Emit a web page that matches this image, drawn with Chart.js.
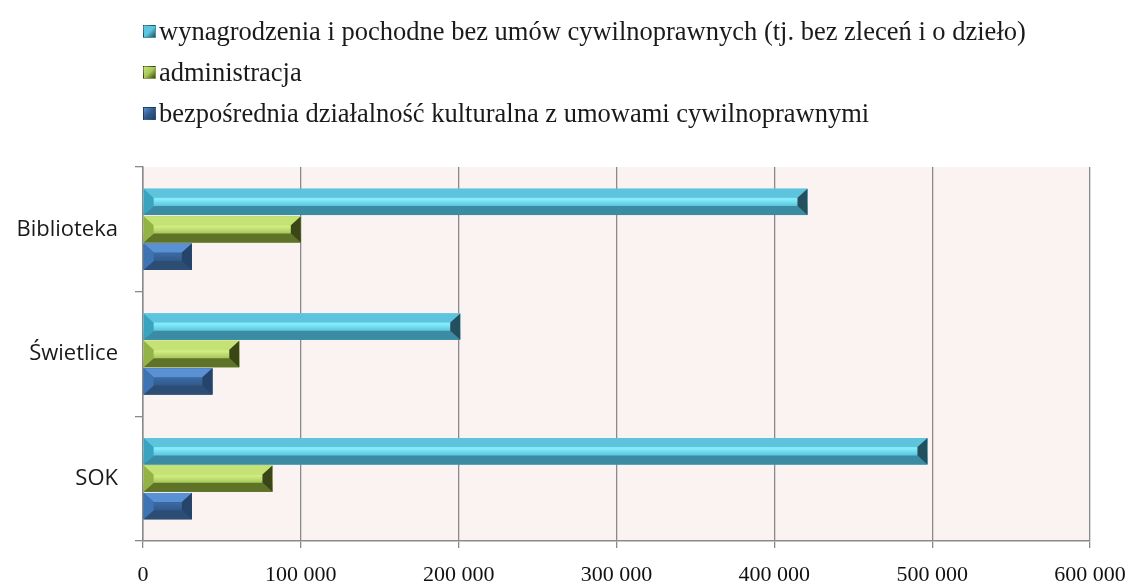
<!DOCTYPE html>
<html>
<head>
<meta charset="utf-8">
<script src="https://cdn.jsdelivr.net/npm/chart.js@4"></script>
<style>
  html, body { margin: 0; padding: 0; background: #fff; }
  #wrap { position: relative; width: 1136px; height: 586px; }
  #legend { position: absolute; left: 143px; top: 0; font-family: 'Liberation Serif', 'Times New Roman', serif; font-size: 26.5px; color: #1a1a1a; }
  .item { position: absolute; left: 0; white-space: nowrap; display: flex; align-items: center; height: 30px; }
  .box { width: 11px; height: 11px; margin-right: 3px; border: 1px solid rgba(0,0,0,0.25); }
</style>
</head>
<body>
<div id="wrap">
  <div id="legend"></div>
  <canvas id="costChart" width="1136" height="586"></canvas>
</div>
<script>
// data
const categories = ['Biblioteka', 'Świetlice', 'SOK'];
const seriesNames = [
    'wynagrodzenia i pochodne bez umów cywilnoprawnych (tj. bez zleceń i o dzieło)',
    'administracja',
    'bezpośrednia działalność kulturalna z umowami cywilnoprawnymi'
];
const wynagrodzenia = [421000, 201000, 497000];
const administracja = [100000, 61000, 82000];
const dzialalnosc = [31000, 44000, 31000];
const xMax = 600000;
const xStep = 100000;

// bevel shades: face, highlight, top, bottom, left, right
const shades = [
    { face: '#5cc6df', hi: '#86ecfb', top: '#5ec4dd', bottom: '#3b8ba2', left: '#3aa3c0', right: '#244f5e' },
    { face: '#a8c85a', hi: '#d0ec85', top: '#c5e274', bottom: '#5f7328', left: '#93b347', right: '#3a4616' },
    { face: '#305a8a', hi: '#3a68a0', top: '#5a90d4', bottom: '#2d4d75', left: '#3f74b4', right: '#26436a' }
];

// html legend, one item per line
const legendEl = document.getElementById('legend');
seriesNames.forEach((name, i) => {
    const s = shades[i];
    legendEl.innerHTML += `
        <div class="item" style="top:${16 + i * 41}px">
            <span class="box" style="background: linear-gradient(135deg, ${s.top} 0%, ${s.face} 50%, ${s.right} 100%);"></span>${name}
        </div>`;
});

const plotBackground = {
    id: 'plotBackground',
    beforeDraw(chart) {
        const a = chart.chartArea;
        const ctx = chart.ctx;
        ctx.save();
        ctx.fillStyle = '#fbf3f2';
        ctx.fillRect(a.left, a.top, a.right - a.left, a.bottom - a.top);
        ctx.restore();
    }
};

function poly(ctx, pts, color) {
    ctx.beginPath();
    ctx.moveTo(pts[0][0], pts[0][1]);
    for (let k = 1; k < pts.length; k++) ctx.lineTo(pts[k][0], pts[k][1]);
    ctx.closePath();
    ctx.fillStyle = color;
    ctx.fill();
}

// redraw each bar with a bevel look, using the bar element geometry
const bevelBars = {
    id: 'bevelBars',
    afterDatasetsDraw(chart) {
        const ctx = chart.ctx;
        chart.data.datasets.forEach((ds, di) => {
            const s = shades[di];
            chart.getDatasetMeta(di).data.forEach(el => {
                const p = el.getProps(['x', 'y', 'base', 'height'], true);
                const l = Math.min(p.x, p.base), r = Math.max(p.x, p.base);
                const t = p.y - p.height / 2, b = p.y + p.height / 2;
                const bh = Math.min(10, (r - l) / 2);   // end bevel
                const bt = Math.min(9, p.height * 0.38); // top/bottom bevel
                ctx.save();
                const g = ctx.createLinearGradient(0, t, 0, b);
                g.addColorStop(0, s.face);
                g.addColorStop(0.4, s.hi);
                g.addColorStop(0.65, s.face);
                g.addColorStop(1, s.bottom);
                ctx.fillStyle = g;
                ctx.fillRect(l, t, r - l, b - t);
                poly(ctx, [[l, t], [r, t], [r - bh, t + bt], [l + bh, t + bt]], s.top);
                poly(ctx, [[l, b], [r, b], [r - bh, b - bt], [l + bh, b - bt]], s.bottom);
                poly(ctx, [[l, t], [l + bh, t + bt], [l + bh, b - bt], [l, b]], s.left);
                poly(ctx, [[r, t], [r - bh, t + bt], [r - bh, b - bt], [r, b]], s.right);
                ctx.restore();
            });
        });
    }
};

const ctx = document.getElementById('costChart').getContext('2d');
new Chart(ctx, {
    type: 'bar',
    data: {
        labels: categories,
        datasets: [
            { label: seriesNames[0], data: wynagrodzenia, backgroundColor: shades[0].face },
            { label: seriesNames[1], data: administracja, backgroundColor: shades[1].face },
            { label: seriesNames[2], data: dzialalnosc, backgroundColor: shades[2].face }
        ]
    },
    options: {
        indexAxis: 'y',
        responsive: false,
        animation: false,
        categoryPercentage: 0.66,
        barPercentage: 0.96,
        layout: { padding: { top: 167, right: 46, left: 0, bottom: 0 } },
        plugins: {
            legend: { display: false },
            tooltip: { enabled: false }
        },
        scales: {
            x: {
                min: 0,
                max: xMax,
                afterFit: scale => {
                    scale.height = 45;
                    scale.paddingRight = 0;
                    scale.paddingLeft = 0;
                },
                ticks: {
                    stepSize: xStep,
                    padding: 14,
                    color: '#111',
                    font: { family: "'Liberation Serif', 'Times New Roman', serif", size: 22 },
                    callback: v => String(v).replace(/\B(?=(\d{3})+(?!\d))/g, ' ')
                },
                grid: { color: '#8a8a8a', lineWidth: 1.3, tickLength: 7 },
                border: { color: '#8a8a8a', width: 1.5 }
            },
            y: {
                afterFit: scale => { scale.width = 143; },
                ticks: {
                    padding: 17,
                    color: '#1a1a1a',
                    font: { family: "'Open Sans', 'Noto Sans', sans-serif", size: 22 }
                },
                grid: { drawOnChartArea: false, color: '#8a8a8a', tickLength: 8, lineWidth: 1.3 },
                border: { color: '#8a8a8a', width: 1.5 }
            }
        }
    },
    plugins: [plotBackground, bevelBars]
});
</script>
</body>
</html>
